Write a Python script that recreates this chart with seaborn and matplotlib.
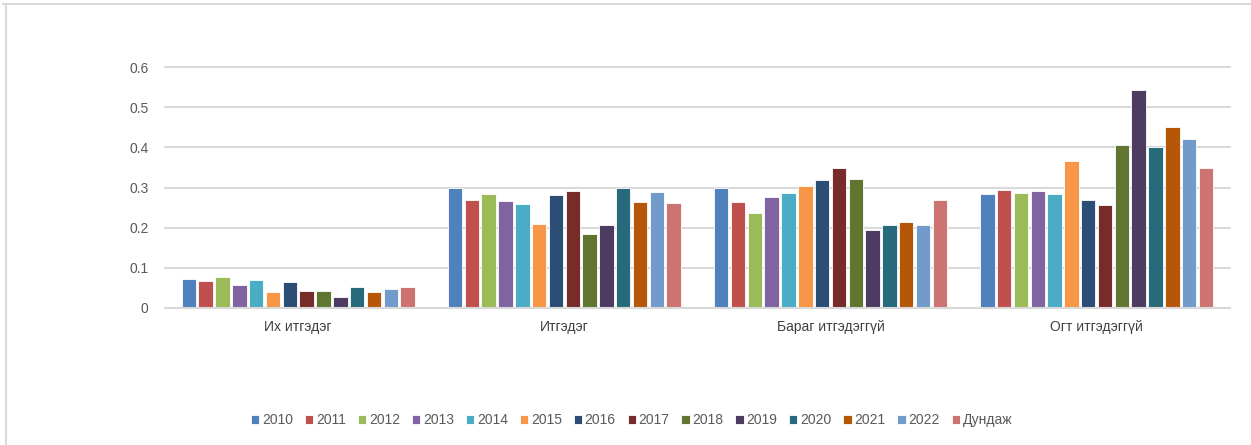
import matplotlib
matplotlib.use("Agg")
import matplotlib.pyplot as plt
import seaborn as sns
import pandas as pd
from matplotlib.lines import Line2D

categories = ["Их итгэдэг", "Итгэдэг", "Бараг итгэдэггүй", "Огт итгэдэггүй"]
series = ["2010", "2011", "2012", "2013", "2014", "2015", "2016", "2017",
          "2018", "2019", "2020", "2021", "2022", "Дундаж"]

v2010 = [0.071, 0.298, 0.299, 0.283]
v2011 = [0.067, 0.269, 0.264, 0.294]
v2012 = [0.078, 0.285, 0.237, 0.287]
v2013 = [0.058, 0.267, 0.277, 0.292]
v2014 = [0.069, 0.259, 0.286, 0.283]
v2015 = [0.039, 0.210, 0.304, 0.365]
v2016 = [0.064, 0.282, 0.318, 0.270]
v2017 = [0.042, 0.291, 0.350, 0.256]
v2018 = [0.042, 0.185, 0.322, 0.405]
v2019 = [0.028, 0.207, 0.194, 0.544]
v2020 = [0.051, 0.300, 0.207, 0.402]
v2021 = [0.039, 0.265, 0.215, 0.452]
v2022 = [0.046, 0.289, 0.207, 0.422]
vavg = [0.053, 0.262, 0.269, 0.350]

all_values = [v2010, v2011, v2012, v2013, v2014, v2015, v2016, v2017,
              v2018, v2019, v2020, v2021, v2022, vavg]

colors = ["#4F81BD", "#C0504D", "#9BBB59", "#8064A2", "#4BACC6", "#F79646",
          "#2C4D75", "#772C2A", "#5F7530", "#4D3B62", "#276A7C", "#B65708",
          "#729ACA", "#CD7371"]

rows = []
for s, vals in zip(series, all_values):
    for c, v in zip(categories, vals):
        rows.append({"cat": c, "series": s, "val": v})
df = pd.DataFrame(rows)

sns.set_theme(style="white")
plt.rcParams["font.family"] = ["Liberation Sans", "DejaVu Sans"]

fig = plt.figure(figsize=(12.51, 4.45), dpi=100)
ax = fig.add_axes([0.132, 0.308, 0.851, 0.541])

sns.barplot(data=df, x="cat", y="val", hue="series", hue_order=series,
            order=categories, palette=colors, width=0.885, gap=0.14,
            edgecolor="white", linewidth=0.6, ax=ax, saturation=1)

ax.set_ylim(0, 0.6)
ax.set_yticks([0, 0.1, 0.2, 0.3, 0.4, 0.5, 0.6])
ax.set_yticklabels(["0", "0.1", "0.2", "0.3", "0.4", "0.5", "0.6"])
ax.yaxis.grid(True, color="#D9D9D9", linewidth=1.5)
ax.set_axisbelow(True)
for g in ax.get_ygridlines():
    g.set_clip_on(False)
for sp in ["left", "right", "top"]:
    ax.spines[sp].set_visible(False)
ax.spines["bottom"].set_color("#D9D9D9")
ax.spines["bottom"].set_linewidth(1.5)
ax.tick_params(axis="y", length=0, pad=12, labelsize=10, labelcolor="#595959")
ax.tick_params(axis="x", length=0, pad=9, labelsize=10, labelcolor="#404040")
ax.set_xlabel("")
ax.set_ylabel("")

ax.legend(loc="center", bbox_to_anchor=(0.505, 0.056),
          bbox_transform=fig.transFigure, ncol=14, frameon=False,
          handlelength=0.6, handleheight=0.6, handletextpad=0.2,
          columnspacing=0.85, fontsize=10, labelcolor="#595959")

# cropped chart-area frame: only top and left edges visible
fig.lines.append(Line2D([3 / 1251, 1.0], [1 - 4 / 445, 1 - 4 / 445],
                        transform=fig.transFigure, color="#D9D9D9", linewidth=1.5))
fig.lines.append(Line2D([6 / 1251, 6 / 1251], [0.0, 1 - 4 / 445],
                        transform=fig.transFigure, color="#D9D9D9", linewidth=1.5))

fig.savefig("out.png", dpi=100)
